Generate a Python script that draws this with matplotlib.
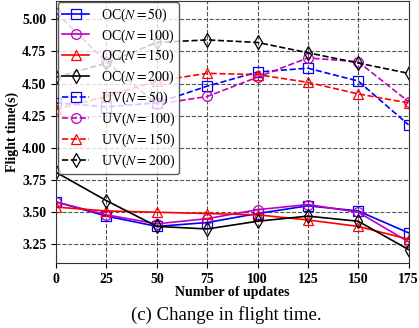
import numpy as np
import matplotlib
matplotlib.use("Agg")
import matplotlib.pyplot as plt

plt.rcParams['font.family'] = ['Liberation Serif', 'DejaVu Serif']
plt.rcParams['mathtext.fontset'] = 'stix'

updates = [0, 25, 50, 75, 100, 125, 150, 175]

# OC (solid lines)
oc_50 = [3.58, 3.47, 3.39, 3.42, 3.49, 3.55, 3.51, 3.34]
oc_100 = [3.58, 3.48, 3.41, 3.45, 3.52, 3.56, 3.50, 3.27]
oc_150 = [3.54, 3.51, 3.50, 3.49, 3.48, 3.44, 3.39, 3.29]
oc_200 = [3.81, 3.59, 3.39, 3.37, 3.43, 3.47, 3.43, 3.21]

# UV (dashed lines)
uv_50 = [4.35, 4.32, 4.35, 4.48, 4.59, 4.62, 4.52, 4.18]
uv_100 = [5.05, 4.67, 4.34, 4.40, 4.55, 4.70, 4.67, 4.36]
uv_150 = [4.30, 4.40, 4.52, 4.58, 4.57, 4.51, 4.42, 4.35]
uv_200 = [4.55, 4.66, 4.82, 4.84, 4.82, 4.74, 4.66, 4.58]

ticks_x = [0, 25, 50, 75, 100, 125, 150, 175]
ticks_y = [3.25, 3.50, 3.75, 4.00, 4.25, 4.50, 4.75, 5.00]

fig = plt.figure(figsize=(4.19, 3.28), dpi=100)
ax = fig.add_axes([0.134, 0.198, 0.841, 0.800])

series = [
    (oc_50, 'b', 's', '-', r'OC($N=50$)'),
    (oc_100, 'm', 'o', '-', r'OC($N=100$)'),
    (oc_150, 'r', '^', '-', r'OC($N=150$)'),
    (oc_200, 'k', 'd', '-', r'OC($N=200$)'),
    (uv_50, 'b', 's', '--', r'UV($N=50$)'),
    (uv_100, 'm', 'o', '--', r'UV($N=100$)'),
    (uv_150, 'r', '^', '--', r'UV($N=150$)'),
    (uv_200, 'k', 'd', '--', r'UV($N=200$)'),
]
for vals, c, m, ls, lab in series:
    ax.plot(updates, vals, color=c, marker=m, linestyle=ls, label=lab,
            markersize=7, markerfacecolor='none', markeredgewidth=0.9,
            linewidth=1.2)

ax.set_xlim(0, 175)
ax.set_ylim(3.105, 5.145)
ax.set_xticks(ticks_x)
ax.set_yticks(ticks_y)
ax.set_yticklabels(['%.2f' % t for t in ticks_y])
for lbl in ax.get_xticklabels() + ax.get_yticklabels():
    lbl.set_fontweight('bold')
    lbl.set_fontsize(10)
ax.grid(True, linestyle='--', color='#555555', linewidth=0.8)
for sp in ax.spines.values():
    sp.set_color('#333333')

ax.set_xlabel('Number of updates', fontsize=10, fontweight='bold', labelpad=0)
ax.set_ylabel('Flight time(s)', fontsize=10, fontweight='bold', labelpad=2)

leg = ax.legend(loc='upper left', fontsize=10, borderaxespad=0.1,
                handlelength=2.0, labelspacing=0.26, borderpad=0.3,
                edgecolor='#333333')

fig.text(0.54, 0.012, '(c) Change in flight time.', fontsize=13.5,
         ha='center', va='bottom')

fig.savefig('out.png', dpi=100)
